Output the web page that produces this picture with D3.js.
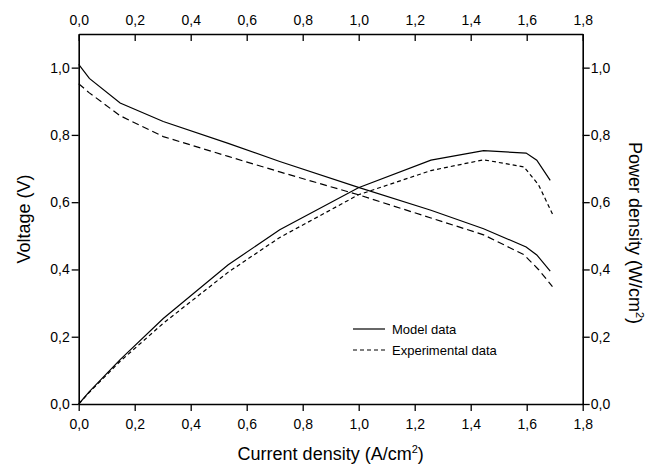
<!DOCTYPE html>
<html>
<head>
<meta charset="utf-8">
<script src="https://cdn.jsdelivr.net/npm/d3@7/dist/d3.min.js"></script>
<style>
  body { margin: 0; background: #fff; }
  text { font-family: "Liberation Sans", Arial, sans-serif; fill: #000; }
</style>
</head>
<body>
<svg id="chart" width="645" height="468"></svg>
<script>
// values
var modelCurrent = [0, 0.038, 0.148, 0.302, 0.534, 0.718, 0.999, 1.258, 1.446, 1.598, 1.636, 1.684],
    modelVoltage = [1.01, 0.968, 0.895, 0.840, 0.775, 0.721, 0.644, 0.576, 0.521, 0.467, 0.443, 0.395],
    modelPower = [0, 0.037, 0.132, 0.254, 0.414, 0.518, 0.643, 0.725, 0.753, 0.746, 0.725, 0.665];

var expCurrent = [0, 0.038, 0.148, 0.302, 0.534, 0.718, 0.999, 1.258, 1.446, 1.59, 1.642, 1.692],
    expVoltage = [0.952, 0.925, 0.857, 0.795, 0.736, 0.690, 0.622, 0.553, 0.503, 0.444, 0.400, 0.349],
    expPower = [0, 0.035, 0.127, 0.240, 0.392, 0.495, 0.622, 0.694, 0.726, 0.705, 0.652, 0.565];

var xTicks = [0, 0.2, 0.4, 0.6, 0.8, 1.0, 1.2, 1.4, 1.6, 1.8],
    xMinor = [0.1, 0.3, 0.5, 0.7, 0.9, 1.1, 1.3, 1.5, 1.7],
    yTicks = [0, 0.2, 0.4, 0.6, 0.8, 1.0],
    yMinor = [0.1, 0.3, 0.5, 0.7, 0.9];

var legendNames = ["Model data", "Experimental data"];

var svg = d3.select("#chart"),
    margin = {top: 34, right: 62.3, bottom: 64, left: 78.7},
    width = 645 - margin.left - margin.right,
    height = 468 - margin.top - margin.bottom;

var x = d3.scaleLinear().domain([0, 1.8]).range([margin.left, margin.left + width]),
    yLeft = d3.scaleLinear().domain([0, 1.1]).range([margin.top + height, margin.top]),
    yRight = d3.scaleLinear().domain([0, 1.1]).range([margin.top + height, margin.top]);

var fmt = function (d) { return d.toFixed(1).replace(".", ","); };

function drawAxis(axisFn, scale, major, minor, transform, inner, pad) {
    var g = svg.append("g").attr("transform", transform);
    g.call(axisFn(scale).tickValues(minor).tickSize(inner * 4 / 7).tickFormat(""));
    g.call(axisFn(scale).tickValues(major).tickSizeInner(inner).tickSizeOuter(0)
        .tickPadding(pad).tickFormat(fmt));
    g.selectAll("path.domain").attr("stroke-width", 1.6);
    g.selectAll(".tick line").attr("stroke-width", 1.3);
    g.selectAll("text").style("font-size", "14px").attr("fill", "#000");
    return g;
}

drawAxis(d3.axisBottom, x, xTicks, xMinor, `translate(0,${margin.top + height})`, 7, 8);
drawAxis(d3.axisTop, x, xTicks, xMinor, `translate(0,${margin.top})`, -7, 9);
drawAxis(d3.axisLeft, yLeft, yTicks, yMinor, `translate(${margin.left},0)`, 7, 2);
drawAxis(d3.axisRight, yRight, yTicks, yMinor, `translate(${margin.left + width},0)`, 7, 1);

// curves
function series(cur, vals) {
    return cur.map(function (c, i) { return [c, vals[i]]; });
}

var lineL = d3.line().x(d => x(d[0])).y(d => yLeft(d[1])),
    lineR = d3.line().x(d => x(d[0])).y(d => yRight(d[1]));

var curves = [
    {data: series(modelCurrent, modelVoltage), line: lineL, dash: null},
    {data: series(expCurrent, expVoltage), line: lineL, dash: "7,4"},
    {data: series(modelCurrent, modelPower), line: lineR, dash: null},
    {data: series(expCurrent, expPower), line: lineR, dash: "4,3"}
];

svg.append("g").selectAll("path")
    .data(curves)
    .enter()
    .append("path")
    .attr("d", d => d.line(d.data))
    .attr("fill", "none")
    .attr("stroke", "#000")
    .attr("stroke-width", 1.2)
    .attr("stroke-dasharray", d => d.dash);

// legend
var legend = svg.append("g").attr("transform", "translate(353,329)");
legendNames.forEach(function (name, i) {
    var row = legend.append("g").attr("transform", `translate(0,${i * 21})`);
    row.append("line")
        .attr("x1", 0).attr("x2", 32).attr("y1", 0).attr("y2", 0)
        .attr("stroke", "#000").attr("stroke-width", 1.2)
        .attr("stroke-dasharray", i === 0 ? null : "4,3");
    row.append("text")
        .attr("x", 39).attr("y", 4.5)
        .style("font-size", "13px")
        .text(name);
});

// axis titles
var xTitle = svg.append("text")
    .attr("x", margin.left + width / 2)
    .attr("y", 460)
    .attr("text-anchor", "middle")
    .style("font-size", "18px");
xTitle.append("tspan").text("Current density (A/cm");
xTitle.append("tspan").attr("dy", -7).style("font-size", "11px").text("2");
xTitle.append("tspan").attr("dy", 7).text(")");

svg.append("text")
    .attr("transform", `translate(30,${margin.top + height / 2}) rotate(-90)`)
    .attr("text-anchor", "middle")
    .style("font-size", "18px")
    .text("Voltage (V)");

var rTitle = svg.append("text")
    .attr("transform", "translate(629,233) rotate(90)")
    .attr("text-anchor", "middle")
    .style("font-size", "18px");
rTitle.append("tspan").text("Power density (W/cm");
rTitle.append("tspan").attr("dy", -7).style("font-size", "11px").text("2");
rTitle.append("tspan").attr("dy", 7).text(")");
</script>
</body>
</html>
